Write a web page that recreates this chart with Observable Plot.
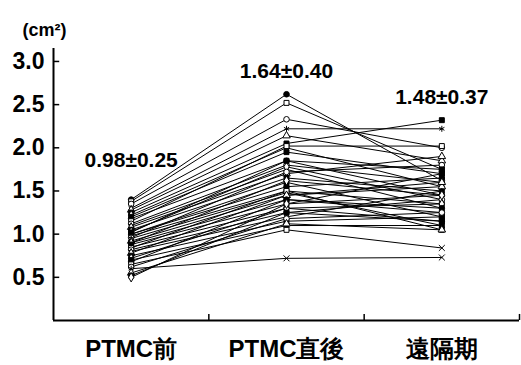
<!DOCTYPE html>
<html>
<head>
<meta charset="utf-8">
<script src="https://cdn.jsdelivr.net/npm/d3@7"></script>
<script src="https://cdn.jsdelivr.net/npm/@observablehq/plot@0.6"></script>
<style>
  html, body { margin: 0; padding: 0; background: #fff; }
</style>
</head>
<body>
<div id="chart"></div>
<script>
const categories = ["PTMC前", "PTMC直後", "遠隔期"];
const pre    = [1.40,1.38,1.35,1.30,1.28,1.25,1.22,1.20,1.18,1.15,1.12,1.10,1.08,1.05,1.03,1.00,1.00,0.98,0.96,0.95,0.92,0.90,0.90,0.88,0.85,0.84,0.82,0.80,0.78,0.75,0.72,0.70,0.68,0.65,0.62,0.60,0.55,0.52,0.50,1.02];
const post   = [2.62,2.52,2.33,2.22,2.14,2.05,2.00,1.95,1.85,2.02,1.80,1.75,1.70,1.65,1.78,1.60,1.55,1.50,1.72,1.48,1.45,1.40,1.62,1.35,1.30,1.50,1.25,1.20,1.45,1.15,1.30,1.10,1.40,1.05,1.18,0.72,1.12,1.25,1.35,1.85];
const remote = [1.62,1.75,2.00,2.22,1.85,2.32,1.55,1.70,1.45,2.02,1.60,1.30,1.90,1.50,1.40,1.20,1.65,1.35,1.80,1.10,1.55,1.25,1.45,1.70,1.15,1.05,1.40,1.50,1.60,1.20,1.35,1.10,1.30,0.84,1.25,0.73,1.05,1.15,1.45,1.75];
const yTicks = [0.5, 1.0, 1.5, 2.0, 2.5, 3.0];
const summaryLabels = ["0.98±0.25", "1.64±0.40", "1.48±0.37"];
const summaryY = [1.85, 2.89, 2.58];
const unitLabel = "(cm²)";

const series = [pre, post, remote];
const rows = [];
pre.forEach((_, id) => {
  series.forEach((vals, t) => rows.push({id, t, v: vals[id]}));
});

const symbols = ["circle", "square", "circle", "asterisk", "triangle", "square", "diamond", "square"];
const fills   = ["black", "white", "white", "black", "white", "black", "white", "black"];
const symOf = d => (d.t > 0 && d.v < 0.9) ? "times" : symbols[d.id % symbols.length];
const fillOf = d => fills[d.id % fills.length];

const summary = summaryLabels.map((s, i) => ({t: i, y: summaryY[i], s}));

const chart = Plot.plot({
  width: 521,
  height: 365,
  marginLeft: 53,
  marginRight: 2,
  marginTop: 48,
  marginBottom: 45,
  style: {fontFamily: "'Liberation Sans', Arial, sans-serif", fontWeight: "bold", color: "black", background: "white"},
  x: {domain: [-0.5, 2.5], axis: null},
  y: {domain: [0, 3.15], axis: null},
  symbol: {type: "identity"},
  marks: [
    Plot.line(rows, {x: "t", y: "v", z: "id", stroke: "black", strokeWidth: 1}),
    Plot.dot(rows, {x: "t", y: "v", symbol: symOf, fill: fillOf, stroke: "black", strokeWidth: 1, r: 2.8}),
    Plot.ruleX([-0.5], {stroke: "black", strokeWidth: 2}),
    Plot.ruleY([0], {x1: -0.5, x2: 2.5, stroke: "black", strokeWidth: 2}),
    Plot.ruleY(yTicks, {x1: -0.5, x2: -0.46, stroke: "black", strokeWidth: 1.5}),
    Plot.ruleX([0.5, 1.5, 2.5], {y1: 0, y2: 0.07, stroke: "black", strokeWidth: 1.5}),
    Plot.axisY(yTicks, {tickSize: 0, tickPadding: 9, fontSize: 23, fontWeight: "bold", tickFormat: d3.format(".1f"), label: null}),
    Plot.axisX([0, 1, 2], {tickSize: 0, tickPadding: 19, fontSize: 24, fontWeight: "bold", tickFormat: i => categories[i], label: null}),
    Plot.text(summary, {x: "t", y: "y", text: "s", fontSize: 21, fontWeight: "bold", fill: "black"}),
    Plot.text([unitLabel], {frameAnchor: "top-left", dx: -31, dy: -25, textAnchor: "start", fontSize: 18, fontWeight: "bold", fill: "black"})
  ]
});
document.getElementById("chart").appendChild(chart);
</script>
</body>
</html>
